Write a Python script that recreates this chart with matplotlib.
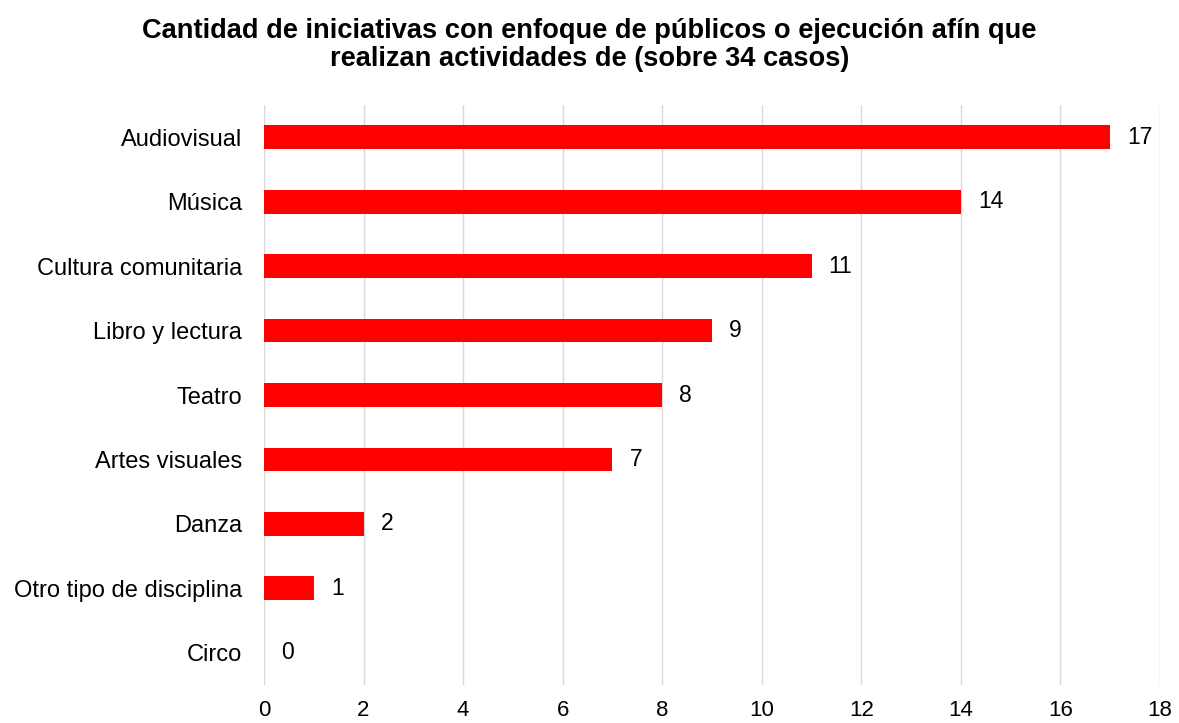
import matplotlib
matplotlib.use("Agg")
import matplotlib.pyplot as plt

categories = ["Audiovisual", "Música", "Cultura comunitaria", "Libro y lectura", "Teatro",
              "Artes visuales", "Danza", "Otro tipo de disciplina", "Circo"]
values = [17, 14, 11, 9, 8, 7, 2, 1, 0]
xticks = [0, 2, 4, 6, 8, 10, 12, 14, 16, 18]
title = "Cantidad de iniciativas con enfoque de públicos o ejecución afín que\nrealizan actividades de (sobre 34 casos)"

plt.rcParams['font.family'] = ['Liberation Sans', 'DejaVu Sans']

fig = plt.figure(figsize=(11.79, 7.23), dpi=100)
ax = fig.add_axes([264/1179, 1-685/723, (1160-264)/1179, (685-105)/723])

y = list(range(len(categories)))
ax.barh(y, values, height=0.37, color="#FF0000", zorder=3)
for yi, v in zip(y, values):
    ax.annotate(str(v), (v, yi), xytext=(17, 0), textcoords="offset pixels",
                va="center", ha="left", fontsize=16.5, color="black")

ax.set_yticks(y)
ax.set_yticklabels(categories, fontsize=17)
ax.set_ylim(len(categories)-0.5, -0.5)
ax.set_xlim(0, 18)
ax.set_xticks(xticks)
ax.set_xticklabels([str(t) for t in xticks], fontsize=16)
ax.tick_params(axis="both", length=0)
ax.tick_params(axis="y", pad=16)
ax.tick_params(axis="x", pad=11)
for s in ax.spines.values():
    s.set_visible(False)
ax.grid(axis="x", color="#D9D9D9", linewidth=1, zorder=0)
ax.set_axisbelow(True)

fig.text(0.5, 1-45/723, title, ha="center", va="center", fontsize=19.6, fontweight="bold",
         linespacing=1.05)

fig.savefig("out.png", dpi=100)
